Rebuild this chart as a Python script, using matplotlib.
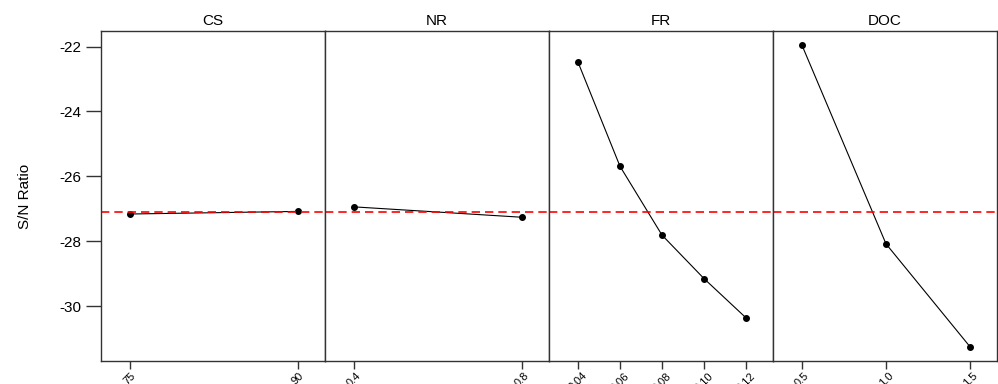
import matplotlib.pyplot as plt
import numpy as np

plt.rcParams['font.family'] = ['Liberation Sans', 'DejaVu Sans']

## === data ===
factors = ['CS', 'NR', 'FR', 'DOC']
cs_lv = [75, 90];                          cs_sn = [-27.16, -27.08]
nr_lv = [0.4, 0.8];                        nr_sn = [-26.94, -27.26]
fr_lv = [0.04, 0.06, 0.08, 0.10, 0.12];    fr_sn = [-22.48, -25.69, -27.81, -29.15, -30.36]
doc_lv = [0.5, 1.0, 1.5];                  doc_sn = [-21.96, -28.08, -31.25]
cs_tl = ['75', '90']
nr_tl = ['0.4', '0.8']
fr_tl = ['0.04', '0.06', '0.08', '0.10', '0.12']
doc_tl = ['0.5', '1.0', '1.5']
mean_sn = -27.10
y_ticks = [-22, -24, -26, -28, -30]
## === ===

levels = [cs_lv, nr_lv, fr_lv, doc_lv]
sn = [cs_sn, nr_sn, fr_sn, doc_sn]
tlabels = [cs_tl, nr_tl, fr_tl, doc_tl]

W, H = 998, 384
fig = plt.figure(figsize=(W/100, H/100), dpi=100)
x0 = 101; pw = 224; top = 31; bot = 361
for ii in range(4):
    ax = fig.add_axes([(x0 + ii*pw)/W, (H-bot)/H, pw/W, (bot-top)/H])
    ax.plot(levels[ii], sn[ii], color='k', linewidth=0.8, marker='o', markersize=4)
    ax.axhline(mean_sn, color='red', linestyle=(0, (5, 3)), linewidth=1.2)
    span = levels[ii][-1] - levels[ii][0]
    ax.set_xlim(levels[ii][0] - span*29/168, levels[ii][-1] + span*27/168)
    ax.set_ylim(-31.69, -21.52)
    ax.set_xticks(levels[ii])
    ax.set_xticklabels(tlabels[ii], rotation=45, ha='center', va='top', fontsize=8)
    ax.tick_params(axis='x', direction='out', length=6, width=1, color='#333333', pad=1)
    ax.set_title(factors[ii], fontsize=11, pad=4)
    for s in ax.spines.values():
        s.set_color('#333333'); s.set_linewidth(1)
    if ii == 0:
        ax.set_yticks(y_ticks)
        ax.set_yticklabels([str(v) for v in y_ticks], fontsize=11)
        ax.tick_params(axis='y', direction='out', length=11, width=1, color='#333333', pad=3)
        ax.set_ylabel('S/N Ratio', fontsize=11, labelpad=20)
    else:
        ax.set_yticks([])

fig.savefig('out.png', dpi=100)
